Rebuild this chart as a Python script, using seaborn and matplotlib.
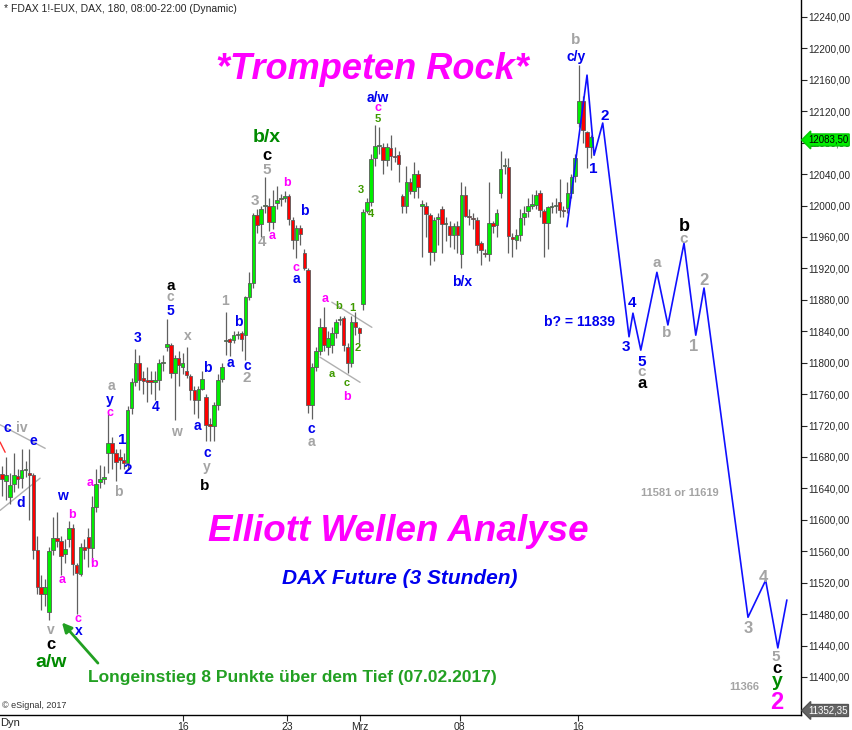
import numpy as np
import pandas as pd
import seaborn as sns
import matplotlib.pyplot as plt

# FDAX 180-min candles, bar 0 = first bar on the left
opens = [
    11658, 11650, 11629, 11646, 11656, 11653, 11663, 11660, 11657, 11562,
    11515, 11505, 11483, 11562, 11577, 11573, 11556, 11575, 11590, 11543,
    11531, 11565, 11578, 11564, 11616, 11648, 11652, 11685, 11698, 11685,
    11680, 11676, 11672, 11742, 11776, 11800, 11780, 11778, 11778, 11776,
    11778, 11800, 11820, 11822, 11787, 11806, 11795, 11789, 11783, 11765,
    11752, 11767, 11756, 11722, 11720, 11746, 11779, 11827, 11830, 11829,
    11835, 11838, 11835, 11884, 11902, 11988, 11976, 11999, 12000, 11979,
    12003, 12008, 12010, 12012, 11981, 11956, 11972, 11940, 11918, 11746,
    11795, 11815, 11845, 11820, 11822, 11838, 11854, 11857, 11820, 11800,
    11852, 11844, 11875, 11993, 12005, 12060, 12076, 12075, 12058, 12073,
    12063, 12064, 12012, 11999, 12030, 12018, 12040, 12000, 12000, 11988,
    11941, 11983, 11996, 11976, 11974, 11963, 11974, 11938, 12013, 11986,
    11984, 11981, 11952, 11940, 11938, 11978, 11975, 12016, 12050, 12049,
    11960, 11956, 11963, 11985, 11993, 12000, 12001, 12016, 11993, 11978,
    11998, 11999, 12005, 11994, 11997, 12016, 12038, 12105, 12133, 12094,
    12075]
highs = [
    11668, 11680, 11660, 11685, 11665, 11690, 11675, 11690, 11660, 11580,
    11530, 11525, 11565, 11604, 11610, 11580, 11575, 11598, 11595, 11545,
    11570, 11575, 11590, 11630, 11665, 11670, 11668, 11735, 11705, 11690,
    11690, 11685, 11745, 11780, 11818, 11810, 11790, 11795, 11790, 11790,
    11805, 11810, 11855, 11825, 11810, 11815, 11812, 11820, 11785, 11770,
    11770, 11790, 11760, 11730, 11750, 11785, 11800, 11865, 11832, 11840,
    11840, 11840, 11885, 11915, 11990, 11995, 12000, 12036, 12010, 12020,
    12025, 12015, 12018, 12015, 11985, 11975, 11975, 11945, 11920, 11800,
    11820, 11857, 11871, 11840, 11845, 11855, 11860, 11860, 11825, 11860,
    11865, 11845, 11995, 12010, 12065, 12102, 12100, 12080, 12080, 12090,
    12075, 12070, 12015, 12050, 12035, 12055, 12045, 12007, 12005, 11990,
    11985, 11990, 12000, 11985, 11980, 11978, 11980, 12030, 12025, 11995,
    11990, 11985, 11955, 11945, 12030, 11980, 11995, 12070, 12060, 12060,
    11965, 11970, 11995, 12000, 12010, 12015, 12020, 12020, 11995, 12000,
    12005, 12010, 12034, 12000, 12030, 12040, 12065, 12179, 12140, 12095,
    12090]
lows = [
    11630, 11625, 11620, 11635, 11640, 11640, 11655, 11600, 11550, 11505,
    11485, 11490, 11472, 11555, 11565, 11530, 11545, 11565, 11530, 11480,
    11528, 11550, 11540, 11545, 11610, 11640, 11645, 11660, 11665, 11650,
    11665, 11665, 11665, 11735, 11770, 11765, 11760, 11750, 11760, 11752,
    11765, 11790, 11815, 11780, 11727, 11770, 11785, 11780, 11752, 11735,
    11730, 11765, 11700, 11700, 11700, 11740, 11775, 11810, 11808, 11825,
    11830, 11815, 11803, 11880, 11895, 11965, 11960, 11990, 11968, 11970,
    11995, 12000, 12005, 11975, 11945, 11933, 11950, 11918, 11736, 11728,
    11790, 11810, 11815, 11810, 11812, 11832, 11848, 11815, 11787, 11795,
    11835, 11825, 11867, 11990, 12000, 12050, 12065, 12040, 12050, 12045,
    12055, 12030, 11990, 11990, 12015, 12010, 12010, 11934, 11960, 11924,
    11930, 11950, 11940, 11955, 11947, 11945, 11940, 11920, 11985, 11975,
    11970, 11940, 11924, 11935, 11930, 11965, 11960, 12010, 12040, 11940,
    11935, 11945, 11955, 11975, 11985, 11995, 11995, 11985, 11934, 11945,
    11990, 11990, 11985, 11985, 11990, 12010, 12030, 12100, 12080, 12048,
    12060]
closes = [
    11652, 11657, 11644, 11657, 11652, 11663, 11665, 11657, 11562, 11515,
    11505, 11515, 11560, 11577, 11573, 11554, 11563, 11589, 11544, 11532,
    11565, 11562, 11564, 11616, 11646, 11652, 11655, 11698, 11685, 11674,
    11676, 11672, 11740, 11775, 11800, 11778, 11777, 11775, 11776, 11778,
    11800, 11801, 11824, 11787, 11806, 11797, 11800, 11784, 11765, 11752,
    11766, 11779, 11721, 11719, 11746, 11778, 11795, 11829, 11826, 11835,
    11836, 11830, 11884, 11901, 11988, 11975, 11996, 12000, 11979, 12000,
    12007, 12010, 12012, 11983, 11956, 11971, 11964, 11921, 11746, 11795,
    11815, 11845, 11823, 11832, 11838, 11852, 11856, 11822, 11800, 11852,
    11845, 11838, 11992, 12004, 12059, 12076, 12077, 12058, 12075, 12063,
    12062, 12053, 11999, 12030, 12018, 12040, 12023, 12001, 11989, 11941,
    11982, 11985, 11976, 11977, 11963, 11974, 11963, 12013, 11987, 11985,
    11983, 11950, 11944, 11938, 11978, 11974, 11990, 12047, 12052, 11961,
    11957, 11963, 11984, 11990, 12000, 12001, 12013, 11994, 11978, 11998,
    11999, 12000, 11994, 11993, 12016, 12036, 12061, 12133, 12096, 12075,
    12087]

# projected wave path (blue line)
proj_bar = [143.9, 149.0, 150.8, 153.0, 159.7, 160.7, 162.7, 166.8,
            169.6, 173.7, 176.7, 178.8, 190.0, 194.5, 197.6, 199.9]
proj_price = [11973, 12166, 12064, 12105, 11833, 11863, 11816, 11915,
              11848, 11952, 11835, 11895, 11476, 11523, 11437, 11498]

# trend lines: (bar0, price0, bar1, price1, colour)
trend_lines = [
    (-0.5, 11721, 11.0, 11691, '#b0b0b0'),
    (-0.5, 11612, 9.7, 11653, '#b0b0b0'),
    (-0.5, 11699, 0.8, 11686, '#ff3030'),
    (84.0, 11877, 94.2, 11845, '#b0b0b0'),
    (81.0, 11807, 91.2, 11775, '#b0b0b0'),
]

x_tick_bars = [46, 72.6, 91.2, 116.6, 146.7]
x_tick_labels = ["16", "23", "Mrz", "08", "16"]
y_ticks = list(range(11400, 12241, 40))
last_price = 12083.50
low_price = 11352.35

BLUE = '#0000ee'
GREY = '#a4a4a4'
MAG = '#ff00ff'
BLACK = '#000000'
GREEN = '#008a00'
OLIVE = '#3f9a00'

# wave labels: text, bar, price, colour, fontsize
wave_labels = [
    ("c", 1.3, 11717, BLUE, 10), ("iv", 5.0, 11717, GREY, 10),
    ("e", 7.9, 11700, BLUE, 10), ("d", 4.8, 11621, BLUE, 10),
    ("w", 15.3, 11630, BLUE, 10), ("b", 17.8, 11606, MAG, 9),
    ("a", 15.3, 11523, MAG, 9), ("b", 23.4, 11544, MAG, 9),
    ("a", 22.4, 11647, MAG, 9), ("v", 12.5, 11460, GREY, 10),
    ("c", 12.5, 11441, BLACK, 12), ("a/w", 12.5, 11418, GREEN, 14),
    ("c", 19.4, 11474, MAG, 9), ("x", 19.6, 11458, BLUE, 10),
    ("a", 27.8, 11770, GREY, 10), ("y", 27.5, 11752, BLUE, 10),
    ("c", 27.5, 11736, MAG, 9), ("1", 30.6, 11702, BLUE, 11),
    ("2", 32.1, 11663, BLUE, 11), ("b", 29.5, 11635, GREY, 10),
    ("3", 34.6, 11831, BLUE, 10), ("4", 39.2, 11744, BLUE, 10),
    ("w", 44.3, 11712, GREY, 10), ("5", 42.8, 11866, BLUE, 10),
    ("c", 42.8, 11884, GREY, 10), ("a", 43.0, 11898, BLACK, 11),
    ("x", 47.4, 11834, GREY, 10), ("b", 52.2, 11793, BLUE, 10),
    ("a", 49.7, 11719, BLUE, 10), ("c", 52.2, 11685, BLUE, 10),
    ("y", 52.2, 11667, GREY, 10), ("b", 51.7, 11643, BLACK, 11),
    ("1", 56.8, 11878, GREY, 10), ("b", 60.1, 11852, BLUE, 10),
    ("a", 58.3, 11800, BLUE, 10), ("c", 62.4, 11796, BLUE, 10),
    ("2", 62.4, 11780, GREY, 11),
    ("b/x", 67.5, 12086, GREEN, 14), ("c", 67.5, 12064, BLACK, 12),
    ("5", 67.5, 12045, GREY, 11), ("3", 64.4, 12006, GREY, 11),
    ("4", 66.2, 11954, GREY, 11), ("b", 72.6, 12029, MAG, 9),
    ("a", 68.8, 11961, MAG, 9), ("b", 76.9, 11993, BLUE, 10),
    ("c", 74.9, 11920, MAG, 9), ("a", 74.9, 11906, BLUE, 10),
    ("c", 78.7, 11716, BLUE, 10), ("a", 78.7, 11699, GREY, 10),
    ("a", 82.3, 11881, MAG, 9), ("b", 85.8, 11872, OLIVE, 8),
    ("1", 89.1, 11870, OLIVE, 8), ("2", 90.7, 11819, OLIVE, 8),
    ("a", 84.0, 11786, OLIVE, 8), ("c", 87.9, 11774, OLIVE, 8),
    ("b", 87.9, 11756, MAG, 9), ("3", 91.4, 12020, OLIVE, 8),
    ("4", 94.0, 11989, OLIVE, 8), ("a/w", 95.7, 12137, BLUE, 10),
    ("c", 95.7, 12124, MAG, 9), ("5", 95.7, 12110, OLIVE, 8),
    ("b/x", 117.1, 11903, BLUE, 10),
    ("b", 146.2, 12211, GREY, 11), ("c/y", 146.2, 12189, BLUE, 10),
    ("2", 153.6, 12114, BLUE, 11), ("1", 150.5, 12046, BLUE, 11),
    ("b? = 11839", 147.2, 11852, BLUE, 10),
    ("4", 160.4, 11876, BLUE, 11), ("3", 158.9, 11820, BLUE, 11),
    ("5", 163.0, 11801, BLUE, 11), ("c", 163.0, 11788, GREY, 11),
    ("a", 163.0, 11773, BLACK, 12),
    ("a", 166.8, 11927, GREY, 11), ("b", 169.3, 11838, GREY, 11),
    ("b", 173.9, 11973, BLACK, 13), ("c", 173.7, 11957, GREY, 11),
    ("2", 178.8, 11904, GREY, 12), ("1", 176.2, 11821, GREY, 12),
    ("11581 or 11619", 172.7, 11634, GREY, 8),
    ("3", 190.0, 11462, GREY, 12), ("4", 194.0, 11526, GREY, 12),
    ("5", 197.1, 11425, GREY, 11), ("c", 197.4, 11411, BLACK, 12),
    ("y", 197.4, 11394, GREEN, 14), ("2", 197.4, 11367, MAG, 17),
    ("11366", 189.0, 11387, GREY, 8),
]

sns.set_style("white")
plt.rcParams['font.family'] = ['Liberation Sans', 'DejaVu Sans']

df = pd.DataFrame({"open": opens, "high": highs, "low": lows, "close": closes})
df["bar"] = np.arange(len(df))
df["up"] = df["close"] >= df["open"]
df["bottom"] = df[["open", "close"]].min(axis=1)
df["height"] = (df["close"] - df["open"]).abs().clip(lower=1.5)

fig = plt.figure(figsize=(8.53, 7.30), dpi=100)
ax = fig.add_axes([0, 15 / 730, 801 / 853, 715 / 730])

# candles
ax.vlines(df["bar"], df["low"], df["high"], color='#606060', linewidth=0.9, zorder=2)
ax.bar(df["bar"], df["height"], bottom=df["bottom"], width=0.9,
       color=np.where(df["up"], '#00ee00', '#ff0000'),
       edgecolor='#5a5a5a', linewidth=0.6, zorder=3)

for b0, p0, b1, p1, col in trend_lines:
    ax.plot([b0, b1], [p0, p1], color=col, linewidth=1, zorder=1)

sns.lineplot(x=proj_bar, y=proj_price, sort=False, color='#1010ff',
             linewidth=1.2, ax=ax, zorder=4)

for txt, b, p, col, fs in wave_labels:
    ax.text(b, p, txt, color=col, fontsize=fs, fontweight='bold',
            ha='center', va='center', zorder=5)

# titles
ax.text(0.4644, 0.903, "*Trompeten Rock*", transform=ax.transAxes, color=MAG,
        fontsize=26, fontweight='bold', fontstyle='italic', ha='center', va='center')
ax.text(0.497, 0.256, "Elliott Wellen Analyse", transform=ax.transAxes, color=MAG,
        fontsize=26.5, fontweight='bold', fontstyle='italic', ha='center', va='center')
ax.text(0.4994, 0.1916, "DAX Future (3 Stunden)", transform=ax.transAxes, color=BLUE,
        fontsize=15, fontweight='bold', fontstyle='italic', ha='center', va='center')
ax.text(0.3645, 0.0531, "Longeinstieg 8 Punkte über dem Tief (07.02.2017)",
        transform=ax.transAxes, color='#22a022', fontsize=12.5, fontweight='bold',
        ha='center', va='center')
ax.annotate("", xy=(14.8, 11472), xytext=(24.9, 11415),
            arrowprops=dict(arrowstyle='-|>', color='#22a022', lw=2, mutation_scale=14))
ax.text(0.0025, 0.013, "© eSignal, 2017", transform=ax.transAxes, color='#333333',
        fontsize=6.5, ha='left', va='center')
fig.text(4 / 853, 1 - 9 / 730, "* FDAX 1!-EUX, DAX, 180, 08:00-22:00 (Dynamic)",
         fontsize=7.5, ha='left', va='center')
fig.text(0.0, 1 - 723 / 730, "Dyn", fontsize=8, ha='left', va='center')

# axes
ax.set_xlim(-0.51, 203.5)
ax.set_ylim(11351.6, 12261.6)
ax.yaxis.tick_right()
ax.set_yticks(y_ticks)
ax.set_yticklabels([f"{v:.2f}".replace('.', ',') for v in y_ticks], fontsize=7.2)
ax.set_xticks(x_tick_bars)
ax.set_xticklabels(x_tick_labels, fontsize=7.5)
ax.tick_params(axis='y', direction='out', length=4, width=0.8, pad=1, right=True, left=False)
ax.tick_params(axis='x', direction='out', length=4, width=0.8, pad=1, bottom=True)
for side in ['top', 'left']:
    ax.spines[side].set_visible(False)
for side in ['right', 'bottom']:
    ax.spines[side].set_color('black')
    ax.spines[side].set_linewidth(1)
ax.set_xlabel("")
ax.set_ylabel("")

# price tags on the right axis
ax.annotate(f"{last_price:.2f}".replace('.', ','), xy=(1.0, last_price),
            xycoords=('axes fraction', 'data'), xytext=(5, 0), textcoords='offset points',
            fontsize=7, ha='left', va='center', color='black', annotation_clip=False,
            bbox=dict(boxstyle='larrow,pad=0.1', fc='#00ee00', ec='#00cc00'))
ax.annotate(f"{low_price:.2f}".replace('.', ','), xy=(1.0, low_price + 5),
            xycoords=('axes fraction', 'data'), xytext=(5, 0), textcoords='offset points',
            fontsize=7, ha='left', va='center', color='white', annotation_clip=False,
            bbox=dict(boxstyle='larrow,pad=0.1', fc='#666666', ec='#555555'))

plt.savefig("out.png", dpi=100)
plt.close()
